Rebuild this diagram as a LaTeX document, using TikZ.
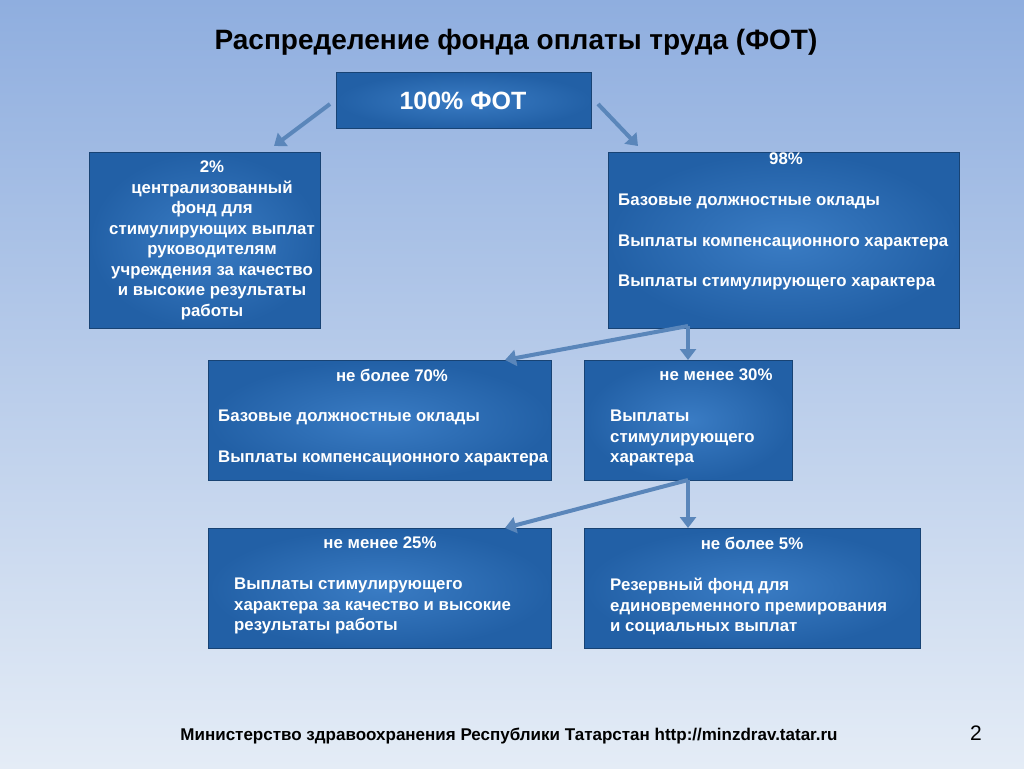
\documentclass[tikz,border=0pt]{standalone}
\usepackage{fontspec}
\setmainfont{Liberation Sans}
\usepackage{tikz}
\usetikzlibrary{
	positioning,
	arrows.meta
}
\definecolor{bgtop}{HTML}{8FAEDF}
\definecolor{bgbot}{HTML}{E4ECF6}
\definecolor{boxmid}{HTML}{3A7CC4}
\definecolor{boxedge}{HTML}{2260A6}
\definecolor{arrowc}{HTML}{5A86BA}
\tikzset{
	fotbox/.style={draw=boxedge!70!black,line width=1pt,inner color=boxmid,outer color=boxedge,
		text=white,anchor=north west,inner sep=0pt},
	fottext/.style={text=white,font=\fontsize{16.8}{20.5}\selectfont\bfseries,inner sep=0pt},
	fotarrow/.style={-{Triangle[length=11pt,width=16pt]},draw=arrowc,line width=4pt}
}
\begin{document}
\begin{tikzpicture}[x=1pt,y=1pt]
		\useasboundingbox (0,0) rectangle (1024,-768);
		\shade[top color=bgtop,bottom color=bgbot] (0,0) rectangle (1024,-768);

		\node [font=\fontsize{28}{32}\selectfont\bfseries] (title) at (516,-42) {Распределение фонда оплаты труда (ФОТ)};

		\node [fotbox,minimum width=255pt,minimum height=56pt] (fot) at (336,-72) {};
		\node [text=white,font=\fontsize{25}{28}\selectfont\bfseries] at (463,-101) {100\% ФОТ};

		\node [fotbox,minimum width=231pt,minimum height=176pt] (cent) at (89,-152) {};
		\node [fottext,align=center,anchor=north] at (212,-161)
			{2\%\\ централизованный\\ фонд для\\ стимулирующих выплат\\ руководителям\\ учреждения за качество\\ и высокие результаты\\ работы};

		\node [fotbox,minimum width=351pt,minimum height=176pt] (base) at (608,-152) {};
		\node [fottext,anchor=north] at (786,-153) {98\%};
		\node [fottext,align=left,anchor=north west] at (618,-194)
			{Базовые должностные оклады\\[20pt]Выплаты компенсационного характера\\[20pt]Выплаты стимулирующего характера};

		\node [fotbox,minimum width=343pt,minimum height=120pt] (max70) at (208,-360) {};
		\node [fottext,anchor=north] at (392,-369) {не более 70\%};
		\node [fottext,align=left,anchor=north west] at (218,-410)
			{Базовые должностные оклады\\[20pt]Выплаты компенсационного характера};

		\node [fotbox,minimum width=208pt,minimum height=120pt] (min30) at (584,-360) {};
		\node [fottext,anchor=north] at (716,-369) {не менее 30\%};
		\node [fottext,align=left,anchor=north west] at (610,-410)
			{Выплаты\\ стимулирующего\\ характера};

		\node [fotbox,minimum width=343pt,minimum height=120pt] (min25) at (208,-528) {};
		\node [fottext,anchor=north] at (380,-537) {не менее 25\%};
		\node [fottext,align=left,anchor=north west] at (234,-578)
			{Выплаты стимулирующего\\ характера за качество и высокие\\ результаты работы};

		\node [fotbox,minimum width=336pt,minimum height=120pt] (max5) at (584,-528) {};
		\node [fottext,anchor=north] at (752,-537) {не более 5\%};
		\node [fottext,align=left,anchor=north west] at (610,-578)
			{Резервный фонд для\\ единовременного премирования\\ и социальных выплат};

		\node [font=\fontsize{17}{20}\selectfont\bfseries] (foot) at (509,-736) {Министерство здравоохранения Республики Татарстан http://minzdrav.tatar.ru};
		\node [font=\fontsize{21}{24}\selectfont] (page) at (976,-733) {2};

		% arrows
		\coordinate (a1) at (330,-104);
		\coordinate (a2) at (598,-104);
		\coordinate (a3) at (688,-326);
		\coordinate (a4) at (688,-480);
		\draw [fotarrow] (a1) -- (274,-146);
		\draw [fotarrow] (a2) -- (638,-146);
		\draw [fotarrow] (a3) -- (505,-360);
		\draw [fotarrow] (a3) -- (688,-360);
		\draw [fotarrow] (a4) -- (505,-528);
		\draw [fotarrow] (a4) -- (688,-528);
\end{tikzpicture}
\end{document}
